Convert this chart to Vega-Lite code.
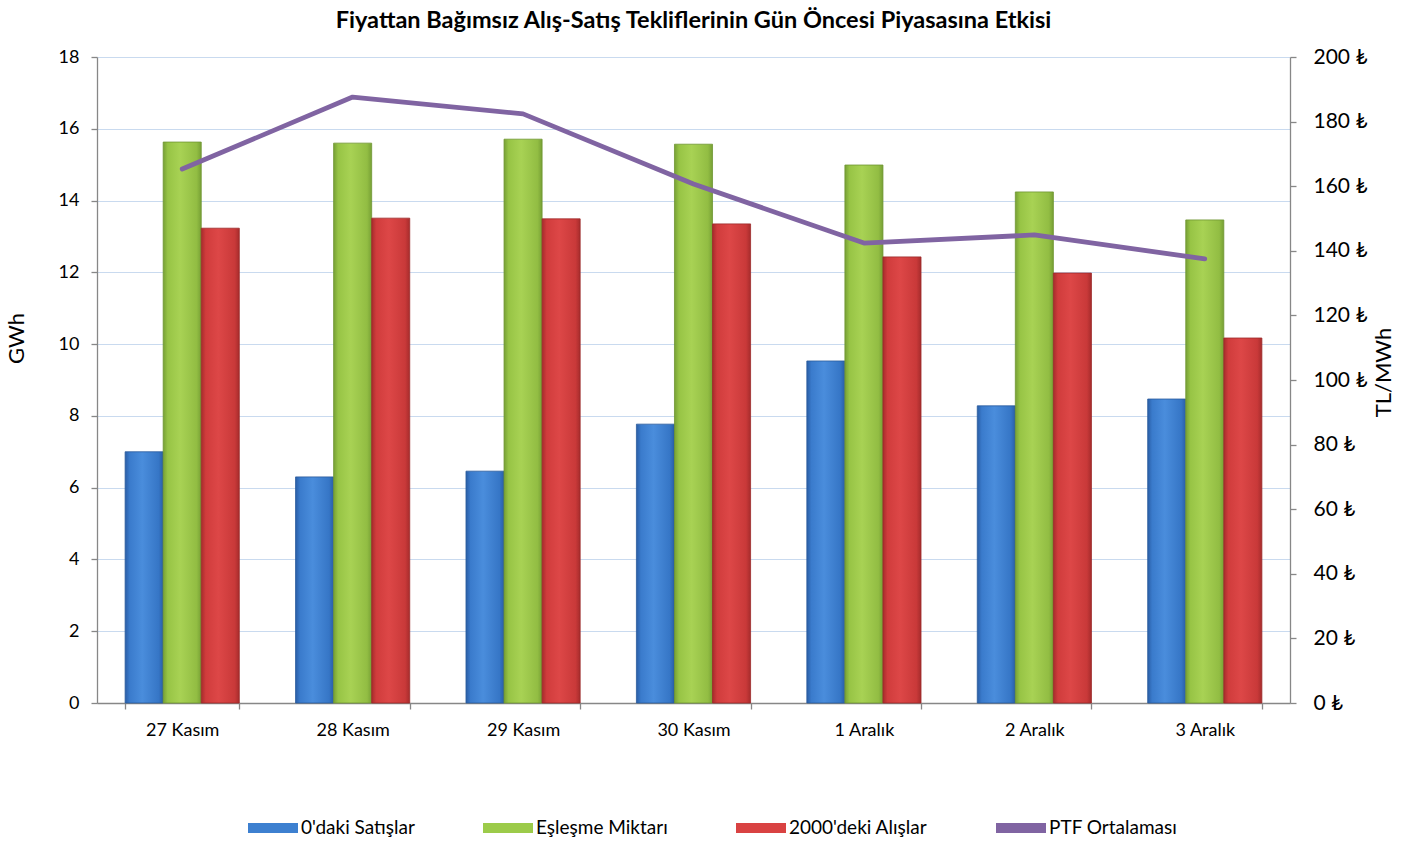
{
  "$schema": "https://vega.github.io/schema/vega-lite/v6.json",
  "width": 1193,
  "height": 646,
  "autosize": {"type": "none"},
  "padding": {"left": 97, "top": 57, "right": 134, "bottom": 138},
  "background": "white",
  "config": {
    "font": "Lato",
    "view": {"stroke": null},
    "axis": {"labelColor": "#000000", "titleColor": "#000000", "titleFontWeight": "normal", "domainColor": "#878787", "tickColor": "#878787", "domainWidth": 1.3, "tickWidth": 1.3, "labelFont": "Lato", "titleFont": "Lato"},
    "legend": {"title": null, "orient": "none", "legendX": 151, "legendY": 746, "direction": "horizontal", "columns": 4, "symbolType": "M-1,-0.2H1V0.2H-1Z", "symbolSize": 2500, "symbolStrokeWidth": 0, "symbolOpacity": 1, "labelFont": "Lato", "labelFontSize": 19, "labelColor": "#000000", "labelOffset": 3, "columnPadding": 68}
  },
  "title": {"text": "Fiyattan Bağımsız Alış-Satış Tekliflerinin Gün Öncesi Piyasasına Etkisi", "font": "Lato", "fontSize": 23.5, "fontWeight": "bold", "color": "#000000", "anchor": "middle", "offset": 14},
  "datasets": {
    "bars": [
      {"gun": "27 Kasım", "seri": "0'daki Satışlar", "gwh": 7.0},
      {"gun": "27 Kasım", "seri": "Eşleşme Miktarı", "gwh": 15.63},
      {"gun": "27 Kasım", "seri": "2000'deki Alışlar", "gwh": 13.23},
      {"gun": "28 Kasım", "seri": "0'daki Satışlar", "gwh": 6.30},
      {"gun": "28 Kasım", "seri": "Eşleşme Miktarı", "gwh": 15.60},
      {"gun": "28 Kasım", "seri": "2000'deki Alışlar", "gwh": 13.51},
      {"gun": "29 Kasım", "seri": "0'daki Satışlar", "gwh": 6.46},
      {"gun": "29 Kasım", "seri": "Eşleşme Miktarı", "gwh": 15.71},
      {"gun": "29 Kasım", "seri": "2000'deki Alışlar", "gwh": 13.49},
      {"gun": "30 Kasım", "seri": "0'daki Satışlar", "gwh": 7.77},
      {"gun": "30 Kasım", "seri": "Eşleşme Miktarı", "gwh": 15.57},
      {"gun": "30 Kasım", "seri": "2000'deki Alışlar", "gwh": 13.35},
      {"gun": "1 Aralık", "seri": "0'daki Satışlar", "gwh": 9.53},
      {"gun": "1 Aralık", "seri": "Eşleşme Miktarı", "gwh": 14.99},
      {"gun": "1 Aralık", "seri": "2000'deki Alışlar", "gwh": 12.43},
      {"gun": "2 Aralık", "seri": "0'daki Satışlar", "gwh": 8.28},
      {"gun": "2 Aralık", "seri": "Eşleşme Miktarı", "gwh": 14.24},
      {"gun": "2 Aralık", "seri": "2000'deki Alışlar", "gwh": 11.98},
      {"gun": "3 Aralık", "seri": "0'daki Satışlar", "gwh": 8.47},
      {"gun": "3 Aralık", "seri": "Eşleşme Miktarı", "gwh": 13.46},
      {"gun": "3 Aralık", "seri": "2000'deki Alışlar", "gwh": 10.17}
    ],
    "ptf": [
      {"gun": "27 Kasım", "ptf": 165.3},
      {"gun": "28 Kasım", "ptf": 187.6},
      {"gun": "29 Kasım", "ptf": 182.4},
      {"gun": "30 Kasım", "ptf": 160.7},
      {"gun": "1 Aralık", "ptf": 142.4},
      {"gun": "2 Aralık", "ptf": 144.9},
      {"gun": "3 Aralık", "ptf": 137.5}
    ]
  },
  "layer": [
    {
      "data": {"name": "bars"},
      "encoding": {
        "x": {
          "field": "gun", "type": "nominal",
          "sort": ["27 Kasım", "28 Kasım", "29 Kasım", "30 Kasım", "1 Aralık", "2 Aralık", "3 Aralık"],
          "scale": {"paddingInner": 0.33, "paddingOuter": 0.165},
          "axis": {"title": null, "labelAngle": 0, "labelFontSize": 18, "tickSize": 6, "tickBand": "extent", "labelPadding": 12, "grid": false}
        },
        "xOffset": {
          "field": "seri", "type": "nominal",
          "sort": ["0'daki Satışlar", "Eşleşme Miktarı", "2000'deki Alışlar"],
          "scale": {"paddingInner": 0, "paddingOuter": 0}
        },
        "y": {
          "field": "gwh", "type": "quantitative",
          "scale": {"domain": [0, 18], "nice": false},
          "axis": {"title": "GWh", "titleFontSize": 22, "titleY": 281, "labelFontSize": 18, "values": [0, 2, 4, 6, 8, 10, 12, 14, 16, 18], "grid": true, "gridColor": "#c9daef", "gridWidth": 1.2, "tickSize": 6, "labelPadding": 12, "titlePadding": 30}
        }
      },
      "layer": [
        {
          "transform": [{"filter": {"field": "seri", "equal": "0'daki Satışlar"}}],
          "mark": {"type": "bar", "stroke": "#2a5a9c", "strokeWidth": 0.8},
          "encoding": {
            "fill": {
              "condition": {"test": "true", "value": {"gradient": "linear", "x1": 0, "y1": 0, "x2": 1, "y2": 0, "stops": [{"offset": 0, "color": "#2a5ea6"}, {"offset": 0.12, "color": "#3a7bcc"}, {"offset": 0.45, "color": "#4a8ddc"}, {"offset": 0.88, "color": "#3676c6"}, {"offset": 1, "color": "#2a5ea6"}]}},
              "field": "seri", "type": "nominal",
              "scale": {"domain": ["0'daki Satışlar", "Eşleşme Miktarı", "2000'deki Alışlar", "PTF Ortalaması"], "range": ["#3d80d0", "#9ccb4a", "#d94242", "#8064a2"]}
            }
          }
        },
        {
          "transform": [{"filter": {"field": "seri", "equal": "Eşleşme Miktarı"}}],
          "mark": {"type": "bar", "stroke": "#6f9631", "strokeWidth": 0.8},
          "encoding": {
            "fill": {
              "condition": {"test": "true", "value": {"gradient": "linear", "x1": 0, "y1": 0, "x2": 1, "y2": 0, "stops": [{"offset": 0, "color": "#77a035"}, {"offset": 0.12, "color": "#97c445"}, {"offset": 0.45, "color": "#a8d254"}, {"offset": 0.88, "color": "#92bd43"}, {"offset": 1, "color": "#77a035"}]}},
              "field": "seri", "type": "nominal",
              "scale": {"domain": ["0'daki Satışlar", "Eşleşme Miktarı", "2000'deki Alışlar", "PTF Ortalaması"], "range": ["#3d80d0", "#9ccb4a", "#d94242", "#8064a2"]}
            }
          }
        },
        {
          "transform": [{"filter": {"field": "seri", "equal": "2000'deki Alışlar"}}],
          "mark": {"type": "bar", "stroke": "#9c2a2a", "strokeWidth": 0.8},
          "encoding": {
            "fill": {
              "condition": {"test": "true", "value": {"gradient": "linear", "x1": 0, "y1": 0, "x2": 1, "y2": 0, "stops": [{"offset": 0, "color": "#a62c2c"}, {"offset": 0.12, "color": "#d03c3c"}, {"offset": 0.45, "color": "#dd4747"}, {"offset": 0.88, "color": "#c93939"}, {"offset": 1, "color": "#a62c2c"}]}},
              "field": "seri", "type": "nominal",
              "scale": {"domain": ["0'daki Satışlar", "Eşleşme Miktarı", "2000'deki Alışlar", "PTF Ortalaması"], "range": ["#3d80d0", "#9ccb4a", "#d94242", "#8064a2"]}
            }
          }
        }
      ]
    },
    {
      "data": {"name": "ptf"},
      "mark": {"type": "line", "color": "#8064a2", "strokeWidth": 4.8, "strokeCap": "round", "strokeJoin": "round"},
      "encoding": {
        "x": {"field": "gun", "type": "nominal", "sort": ["27 Kasım", "28 Kasım", "29 Kasım", "30 Kasım", "1 Aralık", "2 Aralık", "3 Aralık"]},
        "y": {
          "field": "ptf", "type": "quantitative",
          "scale": {"domain": [0, 200], "nice": false},
          "axis": {"orient": "right", "title": "TL/MWh", "titleAngle": -90, "titleFontSize": 22, "titleY": 315, "labelFontSize": 21, "values": [0, 20, 40, 60, 80, 100, 120, 140, 160, 180, 200], "labelExpr": "datum.label + ' ₺'", "grid": false, "tickSize": 6, "labelPadding": 17, "titlePadding": 28}
        }
      }
    }
  ],
  "resolve": {"scale": {"y": "independent"}}
}
